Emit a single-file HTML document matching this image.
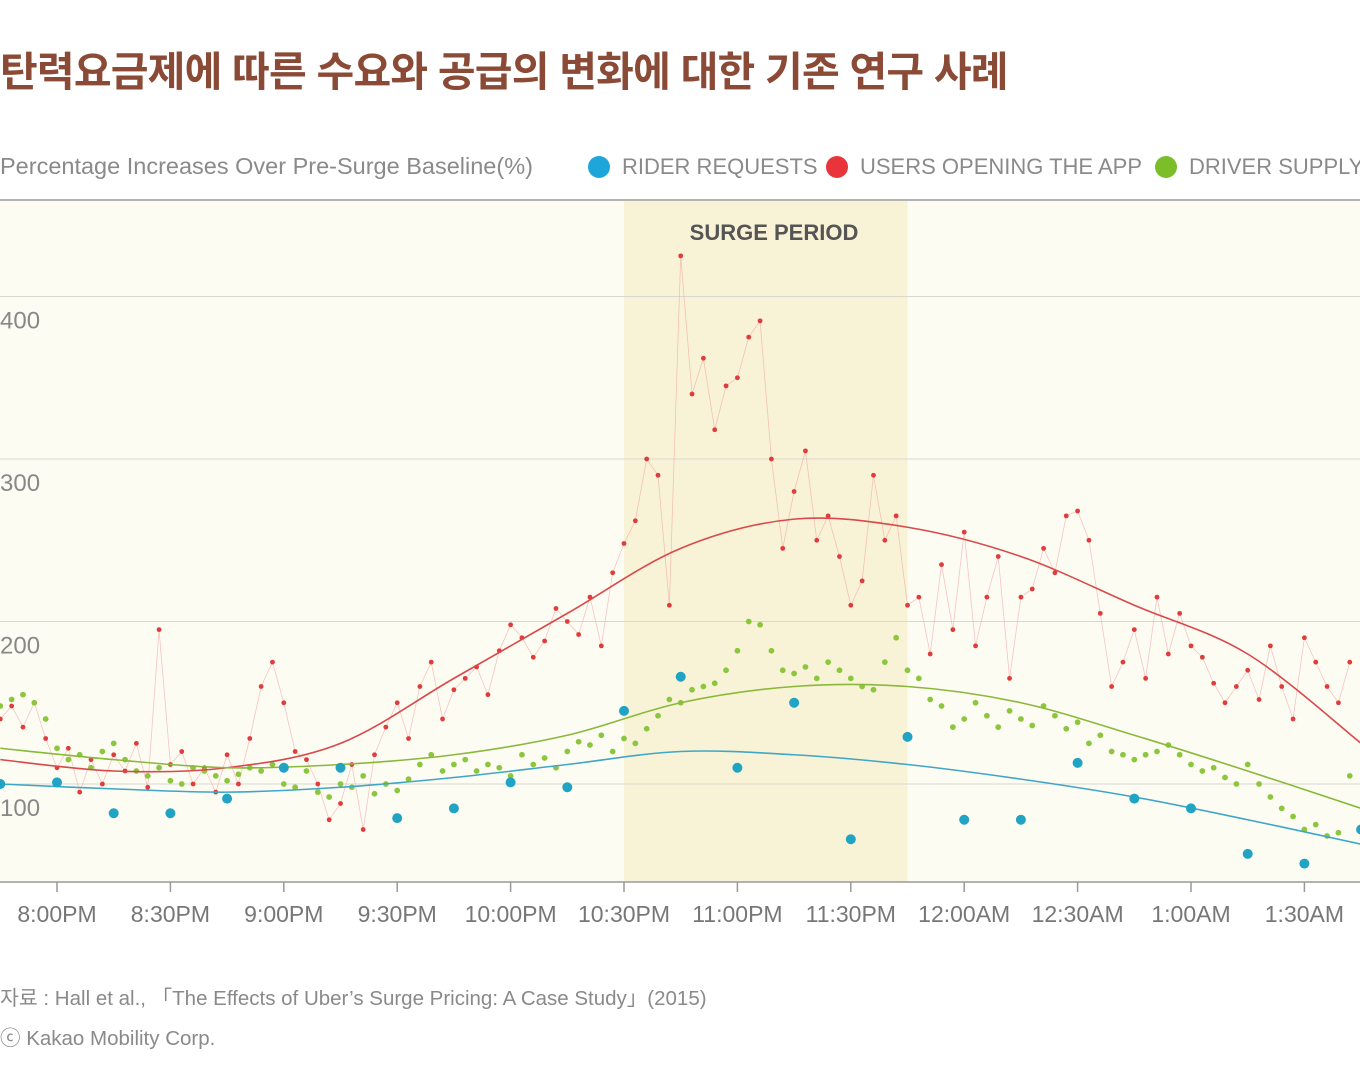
<!DOCTYPE html>
<html><head><meta charset="utf-8">
<style>
body{margin:0;background:#fff;width:1360px;height:1088px;overflow:hidden;font-family:"Liberation Sans","Noto Sans CJK KR",sans-serif;}
#title{position:absolute;left:0;top:38px;font-size:41px;font-weight:bold;color:#8b4a36;letter-spacing:-0.8px;white-space:nowrap;}
#sub{position:absolute;left:0;top:153px;font-size:23.5px;color:#8a8a8a;white-space:nowrap;}
.leg{position:absolute;top:154px;font-size:22px;color:#8a8a8a;white-space:nowrap;}
.dot{display:inline-block;width:22px;height:22px;border-radius:50%;vertical-align:-4px;margin-right:12px;}
.src{position:absolute;left:0;font-size:20.5px;color:#8a8a8a;white-space:nowrap;}
</style></head><body>
<div id="title">탄력요금제에 따른 수요와 공급의 변화에 대한 기존 연구 사례</div>
<div id="sub">Percentage Increases Over Pre-Surge Baseline(%)</div>
<div class="leg" style="left:588px"><span class="dot" style="background:#1ea5d9"></span>RIDER REQUESTS</div>
<div class="leg" style="left:826px"><span class="dot" style="background:#e8343a"></span>USERS OPENING THE APP</div>
<div class="leg" style="left:1155px"><span class="dot" style="background:#7cbd2a"></span>DRIVER SUPPLY</div>
<svg id="chart" width="1360" height="1088" style="position:absolute;left:0;top:0"></svg>
<div class="src" style="top:981px">자료 : Hall et al., 「The Effects of Uber’s Surge Pricing: A Case Study」(2015)</div>
<div class="src" style="top:1021px">ⓒ Kakao Mobility Corp.</div>
<script>
const xTicks=["8:00PM","8:30PM","9:00PM","9:30PM","10:00PM","10:30PM","11:00PM","11:30PM","12:00AM","12:30AM","1:00AM","1:30AM"];
const yTicks=[100,200,300,400];
const blueVals=[100,101,82,82,91,110,110,79,85,101,98,145,166,110,150,66,129,78,78,113,91,85,57,51,72];
const redVals=[140,148,135,150,128,110,122,95,115,100,
118,108,125,98,195,112,120,100,110,95,
118,100,128,160,175,150,120,115,100,78,
88,112,72,118,135,150,128,160,175,140,
158,165,172,155,182,198,190,178,188,208,
200,192,215,185,230,248,262,300,290,210,
425,340,362,318,345,350,375,385,300,245,
280,305,250,265,240,210,225,290,250,265,
210,215,180,235,195,255,185,215,240,165,
215,220,245,230,265,268,250,205,160,175,
195,165,215,180,205,185,178,162,150,160,
170,152,185,160,140,190,175,160,150,175];
const greenVals=[148,152,155,150,140,122,115,118,110,120,
125,115,108,105,110,102,100,110,108,105,
102,106,110,108,112,100,98,108,95,92,
100,98,105,94,100,96,103,112,118,108,
112,115,108,112,110,105,118,112,116,110,
120,126,124,130,120,128,125,134,142,152,
150,158,160,162,170,182,200,198,182,170,
168,172,165,175,170,165,160,158,175,190,
170,165,152,148,135,140,150,142,135,145,
140,136,148,142,134,138,125,130,120,118,
115,118,120,124,118,112,108,110,104,100,
112,100,92,85,80,72,75,68,70,105];
const trendT=[-15,15,45,75,105,135,165,195,225,255,285,315,345];
const redTrend=[115,108,110,125,165,205,245,263,258,240,210,180,125];
const blueTrend=[100,97,95,98,104,112,120,118,112,103,92,78,63];
const greenTrend=[122,115,110,112,118,130,150,160,160,150,130,108,85];
const NS="http://www.w3.org/2000/svg";
const svg=document.getElementById('chart');
const X=t=>57+t*3.78, Y=v=>784-(v-100)*1.625;
function mk(tag,a,p){const e=document.createElementNS(NS,tag);for(const k in a)e.setAttribute(k,a[k]);(p||svg).appendChild(e);return e;}
const bg=mk('rect',{x:0,y:201,width:1360,height:681,fill:'#fdfcf3'});


const band=mk('rect',{x:X(150),y:201,width:X(225)-X(150),height:681,fill:'#f8f3d6'});


const bl=mk('text',{x:774,y:240,'text-anchor':'middle','font-size':22,'font-weight':'bold',fill:'#555'});bl.textContent='SURGE PERIOD';


mk('line',{x1:0,x2:1360,y1:200,y2:200,stroke:'#999','stroke-width':1.5});
yTicks.forEach(v=>{
 const g=mk('line',{x1:0,x2:1360,y1:Y(v),y2:Y(v),stroke:'#d8d8d0','stroke-width':1});
 
 
 const t=mk('text',{x:0,y:Y(v)+32,'font-size':24,fill:'#888'});t.textContent=v;
 
 
});
mk('line',{x1:0,x2:1360,y1:882,y2:882,stroke:'#999','stroke-width':1.5});
xTicks.forEach((s,i)=>{
 const x=X(i*30);
 mk('line',{x1:x,x2:x,y1:882,y2:892,stroke:'#999','stroke-width':1.5});
 const t=mk('text',{x:x,y:922,'text-anchor':'middle','font-size':23,fill:'#777'});t.textContent=s;
 
 
});
function spline(ts,vs,col,name){
 const p=ts.map((t,i)=>[X(t),Y(vs[i])]);let d='M'+p[0];
 for(let i=0;i<p.length-1;i++){const p0=p[i-1]||p[i],p1=p[i],p2=p[i+1],p3=p[i+2]||p2;
  d+=' C'+(p1[0]+(p2[0]-p0[0])/6)+','+(p1[1]+(p2[1]-p0[1])/6)+' '+(p2[0]-(p3[0]-p1[0])/6)+','+(p2[1]-(p3[1]-p1[1])/6)+' '+p2[0]+','+p2[1];}
 const e=mk('path',{d:d,fill:'none',stroke:col,'stroke-width':1.6});
 
 
}
const redPts=redVals.map((v,i)=>[X(-15+i*3),Y(v)]);
const rl=mk('polyline',{points:redPts.join(' '),fill:'none',stroke:'#f0a0a0','stroke-width':0.8,opacity:0.6});


redPts.forEach(p=>{const c=mk('circle',{cx:p[0],cy:p[1],r:2.4,fill:'#e03c3c'});
 
 });
greenVals.forEach((v,i)=>{const c=mk('circle',{cx:X(-15+i*3),cy:Y(v),r:2.9,fill:'#8cc63f'});
 
 });
spline(trendT,redTrend,'#d9484a','users-opening-app-trend');
spline(trendT,greenTrend,'#8ab83a','driver-supply-trend');
spline(trendT,blueTrend,'#3fa6c8','rider-requests-trend');
blueVals.forEach((v,i)=>{const c=mk('circle',{cx:X(-15+i*15),cy:Y(v),r:5,fill:'#21a3c4'});
 
 });
</script>
</body></html>
